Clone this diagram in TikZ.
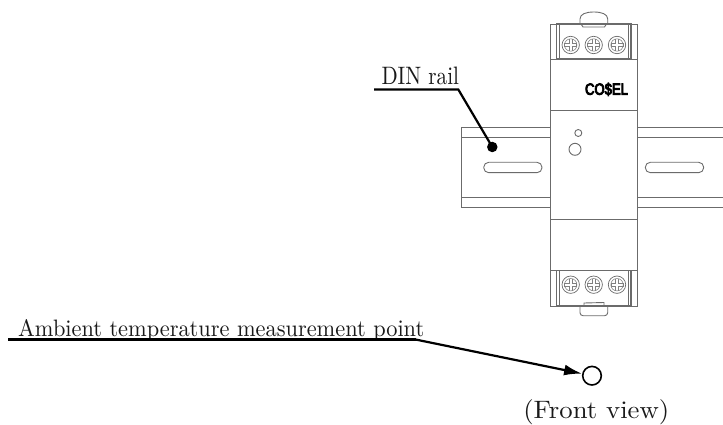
\documentclass[tikz,border=0pt]{standalone}
\usepackage{fontspec}
\usepackage{graphicx}
\usetikzlibrary{arrows.meta}
\newfontfamily\logofont[FakeBold=6]{Liberation Sans}
\tikzset{
  part/.style={draw=black!58,line width=0.9pt},
  thinpart/.style={draw=black!50,line width=0.55pt},
  leader/.style={draw=black,line width=2.2pt},
  lbl/.style={inner sep=0pt,text=black!90},
  screwhead/.style={circle,draw=black!58,line width=0.7pt,minimum size=17.4pt,inner sep=0pt},
  led/.style={circle,draw=black!58,line width=0.9pt,inner sep=0pt},
}
\newcommand{\screwmark}[2]{%
  \draw[thinpart] (#1,#2) circle (6.2);
  \draw[thinpart] (#1-1.6,#2-6) -- (#1-1.6,#2-1.6) -- (#1-6,#2-1.6) -- (#1-6,#2+1.6) -- (#1-1.6,#2+1.6) -- (#1-1.6,#2+6);
  \draw[thinpart] (#1+1.6,#2-6) -- (#1+1.6,#2-1.6) -- (#1+6,#2-1.6) -- (#1+6,#2+1.6) -- (#1+1.6,#2+1.6) -- (#1+1.6,#2+6);
}
\begin{document}
\begin{tikzpicture}[x=1pt,y=-1pt]
\useasboundingbox (0,0) rectangle (723,425);
% rail
\draw[part] (550,127.5) -- (461,127.5) -- (461,207) -- (550,207);
\draw[part] (461,137) -- (550,137);
\draw[part] (461,197.7) -- (550,197.7);
\draw[part] (723,127.5) -- (637.7,127.5);
\draw[part] (723,137) -- (637.7,137);
\draw[part] (723,197.7) -- (637.7,197.7);
\draw[part] (723,207) -- (637.7,207);
\draw[part,rounded corners=5pt] (483.7,162.3) rectangle (542,172.7);
\draw[part,rounded corners=5pt] (645.3,162.3) rectangle (703.7,172.7);
% body
\draw[part] (550,24) rectangle (637.7,306);
\draw[part] (550,110) -- (637.7,110);
\draw[part] (550,219.3) -- (637.7,219.3);
\draw[part] (550,59) -- (556.7,59);
\draw[part] (631,59) -- (637.7,59);
\draw[part] (550,270.7) -- (556.7,270.7);
\draw[part] (631,270.7) -- (637.7,270.7);
% top tab
\draw[part] (580,24) -- (580,19) .. controls (580,14) and (586,12) .. (593.8,12) .. controls (601.5,12) and (607.7,14) .. (607.7,19) -- (607.7,24);
\draw[part] (581,24) -- (583,27) -- (604.5,27) -- (606.5,24);
% bottom tab
\draw[part,rounded corners=3pt] (580,306) -- (580,315.7) -- (607.7,315.7) -- (607.7,306);
\draw[part] (584,306) -- (584,303) -- (604,302.5) -- (604,306);
% terminals
\draw[draw=black!58,line width=1.1pt] (556.7,24) rectangle (631,59);
\draw[part] (559.3,24) -- (559.3,59);
\draw[part] (628.5,24) -- (628.5,59);
\draw[draw=black!58,line width=1.1pt] (556.7,270.7) rectangle (631,306);
\draw[part] (559.3,270.7) -- (559.3,306);
\draw[part] (628.5,270.7) -- (628.5,306);
\node[screwhead] (s1) at (570.7,45) {};
\node[screwhead] (s2) at (593.7,45) {};
\node[screwhead] (s3) at (617,45) {};
\node[screwhead] (s4) at (570.7,284.7) {};
\node[screwhead] (s5) at (593.7,284.7) {};
\node[screwhead] (s6) at (617,284.7) {};
\screwmark{570.7}{45}\screwmark{593.7}{45}\screwmark{617}{45}
\screwmark{570.7}{284.7}\screwmark{593.7}{284.7}\screwmark{617}{284.7}
% logo and indicators
\node[inner sep=0pt,text=black] (logo) at (606.5,89.3) {\resizebox*{43pt}{13pt}{\logofont CO\$EL}};
\node[led,minimum size=7pt] (l1) at (578.3,133) {};
\node[led,minimum size=12pt] (l2) at (575,149.3) {};
% labels
\node[lbl,anchor=south] (din) at (420.3,85) {\resizebox{77.5pt}{17.5pt}{DIN rail}};
\coordinate (dinL) at (374,89.5);
\coordinate (dinK) at (458.3,89.5);
\node[circle,fill=black,minimum size=10.5pt,inner sep=0pt] (dot) at (492.3,147) {};
\draw[leader,line join=miter] (dinL) -- (dinK) -- (dot.center);
\node[lbl,anchor=base west] (amb) at (18,336.7) {\resizebox{406pt}{17pt}{Ambient temperature measurement point}};
\coordinate (ambL) at (8.3,339.5);
\coordinate (ambK) at (415.5,339.5);
\node[circle,draw=black,line width=1.6pt,minimum size=18.6pt,inner sep=0pt] (pt) at (592,375.7) {};
\draw[leader] (ambL) -- (ambK);
\draw[leader,-{Latex[length=18pt,width=11pt]}] (ambK) -- (pt);
\node[lbl] (fv) at (596.3,412.3) {\resizebox*{146pt}{25.2pt}{(Front view)}};
\end{tikzpicture}
\end{document}
